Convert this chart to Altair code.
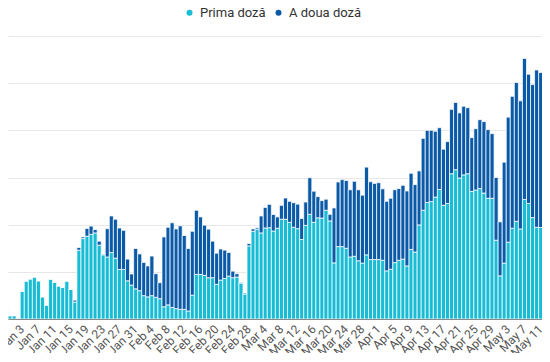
import altair as alt
import pandas as pd

# Daily doses (Dec 30, 2020 -> May 14, 2021)
first_dose = [2700, 4500, 1400, 1400, 400, 11800, 16100, 17000, 17800, 16200, 9400, 5900, 16900, 15600, 14000, 13400, 16100, 12600,
              7200, 29200, 34100, 35100, 35900, 36500, 31300, 27200,
              26300, 28200, 25800, 21000, 21000, 16200, 14400, 12800, 12000, 9900, 9400, 9900, 9200, 8600,
              5200, 6000, 4900, 4400, 4100, 4100, 3400, 10100,
              18900, 18900, 18500, 17500, 17500, 14700, 16500, 17200, 18200, 17500, 17800, 15200, 10600,
              31000, 37200, 38100, 36500, 38600, 38700, 37300, 38500, 42300, 42300, 41000, 38900, 38300, 33700, 39700, 44400, 41000, 42900, 42800, 46100, 41600,
              23800, 30700, 30700, 30000, 26300, 26600, 24700, 23700, 27200, 25200, 25200, 25200, 24900, 20400, 21100, 23900, 24900, 25400, 22500, 29500, 28400,
              39900, 46100, 49400, 49800, 51700, 54900, 48200, 49000, 61600, 63300, 59800, 61100, 61600, 54100, 54700, 55300, 53400, 51200, 51200,
              33400, 18300, 23700, 32600, 38500, 41400, 38200, 50700, 49000, 43000, 38900, 38800, 39100, 44900]
second_dose = [0] * 18 + [
              800, 1100, 700, 3300, 3500, 1400, 1700, 300,
              12000, 15500, 16500, 17600, 16600, 9200, 4700, 17100, 15600, 14100, 13100, 16800, 10000, 6800,
              29600, 32900, 35900, 33800, 35400, 31300, 26500, 27100,
              27200, 24400, 21300, 20600, 15500, 13200, 13200, 12000, 10000, 2800, 1400, 300, 400,
              1000, 1000, 600, 7200, 8700, 9900, 7000, 4800, 5900, 9000, 8900, 10400, 10400, 8900, 9900, 15500, 13200, 9000, 7400, 4700, 2800,
              23300, 27400, 28400, 28700, 28500, 31800, 30100, 28800, 37200, 33000, 32300, 32600, 30300, 29500, 30100, 30900, 30400, 31300, 31800, 32300, 28600,
              22900, 30500, 30600, 30200, 27900, 26200, 23800, 26200, 27300, 28500, 27600, 29100, 28000, 22800, 26000, 29200, 30300, 29100, 27400,
              26600, 22900, 42800, 53000, 55900, 58900, 54300, 59800, 54800, 56400, 66700, 65700, 64300, 65400]
start_date = "2020-12-30"
tick_dates = ["2020-12-30", "2021-01-03", "2021-01-07", "2021-01-11", "2021-01-15", "2021-01-19", "2021-01-23",
              "2021-01-27", "2021-01-31", "2021-02-04", "2021-02-08", "2021-02-12", "2021-02-16", "2021-02-20",
              "2021-02-24", "2021-02-28", "2021-03-04", "2021-03-08", "2021-03-12", "2021-03-16", "2021-03-20",
              "2021-03-24", "2021-03-28", "2021-04-01", "2021-04-05", "2021-04-09", "2021-04-13", "2021-04-17",
              "2021-04-21", "2021-04-25", "2021-04-29", "2021-05-03", "2021-05-07", "2021-05-11", "2021-05-15"]
y_ticks = [0, 20000, 40000, 60000, 80000, 100000, 120000]
series_names = ["Prima doză", "A doua doză"]
series_colors = ["#19bcd5", "#0b5aa8"]

days = pd.date_range(start_date, periods=len(first_dose), freq="D")
rows = []
for d, f, s in zip(days, first_dose, second_dose):
    st = d.strftime("%Y-%m-%dT00:00:00")
    en = (d + pd.Timedelta(days=1)).strftime("%Y-%m-%dT00:00:00")
    rows.append({"start": st, "end": en, "series": series_names[0], "y0": 0, "y1": f})
    rows.append({"start": st, "end": en, "series": series_names[1], "y0": f, "y1": f + s})
df = pd.DataFrame(rows)

tick_values = []
for t in tick_dates:
    y, m, dd = (int(v) for v in t.split("-"))
    tick_values.append(alt.DateTime(year=y, month=m, date=dd, hours=12))

x_domain = [alt.DateTime(year=2020, month=12, date=31, hours=23, minutes=32),
            alt.DateTime(year=2021, month=5, date=12, hours=19, minutes=55)]

chart = alt.Chart(df).mark_bar(stroke="white", strokeWidth=1, strokeOpacity=0.75, clip=True).encode(
    x=alt.X("start:T", scale=alt.Scale(domain=x_domain),
            axis=alt.Axis(values=tick_values, format="%b %-d", labelAngle=-45, labelAlign="right",
                          labelBaseline="top", ticks=False, grid=False, domainColor="#8a8a8a",
                          labelFont="Roboto", labelFontSize=12, labelColor="#555555", labelPadding=4,
                          labelOverlap=False, labelFlush=False, labelBound=False, title=None, zindex=1)),
    x2="end:T",
    y=alt.Y("y0:Q", scale=alt.Scale(domain=[0, 120000], nice=False),
            axis=alt.Axis(values=y_ticks, labels=False, ticks=False, domain=False, grid=True,
                          gridColor="#e8e8e8", title=None)),
    y2="y1:Q",
    color=alt.Color("series:N", scale=alt.Scale(domain=series_names, range=series_colors),
                    legend=alt.Legend(title=None, orient="none", legendX=175, legendY=-30,
                                      direction="horizontal", symbolType="circle", symbolSize=36,
                                      symbolStrokeWidth=0, labelFont="Roboto", labelFontSize=13,
                                      labelColor="#333333", labelOffset=4, columnPadding=6, padding=0)),
).properties(
    width=534, height=283,
    padding={"left": 0, "top": 28, "right": 0, "bottom": 34},
    autosize=alt.AutoSizeParams(type="none"),
).configure_view(stroke=None)

chart.save("out.html", embed_options={"renderer": "svg", "actions": False})
